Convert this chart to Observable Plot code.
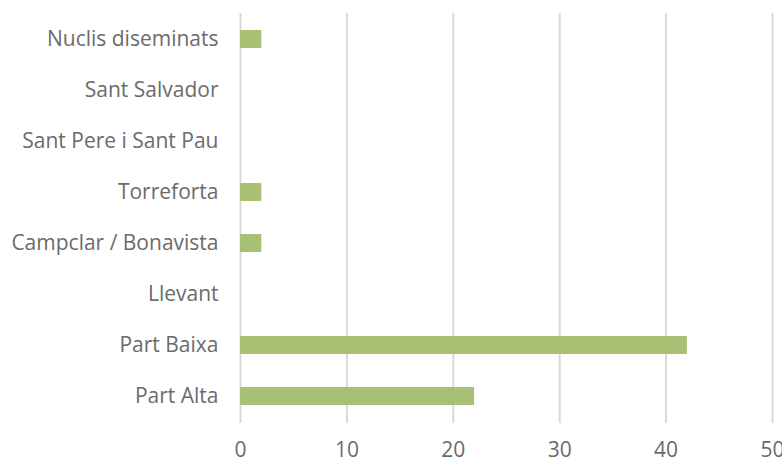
<!DOCTYPE html>
<html>
<head>
<meta charset="utf-8">
<script src="https://cdn.jsdelivr.net/npm/d3@7"></script>
<script src="https://cdn.jsdelivr.net/npm/@observablehq/plot@0.6"></script>
<style>
  html, body { margin: 0; padding: 0; background: #fff; }
  #chart svg { display: block; }
</style>
</head>
<body>
<div id="chart"></div>
<script>
const categories = ["Part Alta", "Part Baixa", "Llevant", "Campclar / Bonavista", "Torreforta", "Sant Pere i Sant Pau", "Sant Salvador", "Nuclis diseminats"];
const values = [22, 42, 0, 2, 2, 0, 0, 2];
const xTicks = [0, 10, 20, 30, 40, 50];

const data = categories.map((c, i) => ({category: c, value: values[i]}));
const barData = data.filter(d => d.value > 0);

const chart = Plot.plot({
  width: 782,
  height: 463,
  marginLeft: 240,
  marginRight: 10,
  marginTop: 13,
  marginBottom: 40,
  style: {fontFamily: "'Open Sans', sans-serif", fontSize: "21px", color: "#6b6b6b", background: "#fff", overflow: "visible"},
  x: {domain: [0, 50], ticks: xTicks},
  y: {domain: categories.slice().reverse(), paddingInner: 0.64, paddingOuter: 0.32},
  marks: [
    Plot.gridX(xTicks, {stroke: "#d9d9d9", strokeOpacity: 1, strokeWidth: 2}),
    Plot.barX(barData, {x: "value", y: "category", fill: "#a9c074"}),
    Plot.axisX({ticks: xTicks, tickSize: 0, tickPadding: 19, fontSize: 21, fill: "#6b6b6b", label: null}),
    Plot.axisY({tickSize: 0, tickPadding: 22, fontSize: 21, fill: "#6b6b6b", label: null})
  ]
});
document.getElementById("chart").appendChild(chart);
</script>
</body>
</html>
